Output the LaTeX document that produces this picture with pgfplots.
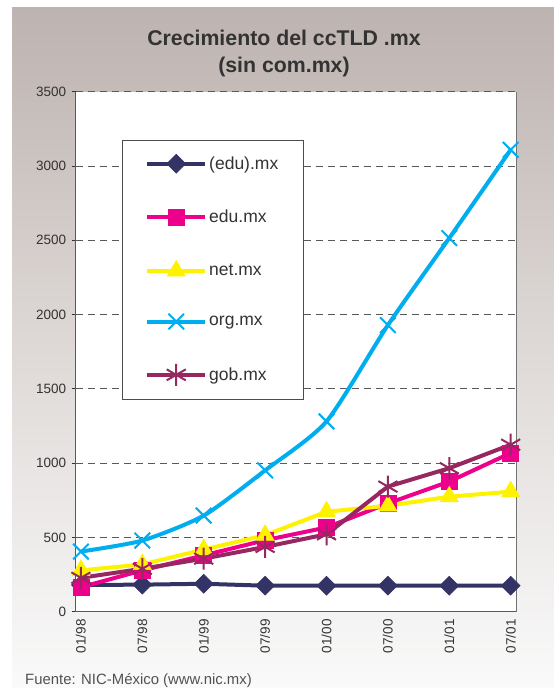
\documentclass[border=0pt]{standalone}
\usepackage{pgfplots}
\pgfplotsset{compat=1.18}
\usepackage{fontspec}
\setmainfont{Liberation Sans}
\definecolor{cnavy}{RGB}{51,51,102}
\definecolor{cpink}{RGB}{236,0,140}
\definecolor{cyellow}{RGB}{255,242,0}
\definecolor{ccyan}{RGB}{0,174,239}
\definecolor{cpurple}{RGB}{150,40,95}
\definecolor{bgtop}{RGB}{189,179,176}
\definecolor{bgbot}{RGB}{250,250,250}
\definecolor{txt}{RGB}{51,51,51}
\begin{document}
\begin{tikzpicture}
\useasboundingbox (0,0) rectangle (554pt,688pt);
\shade[top color=bgtop, bottom color=bgbot, middle color={rgb,255:red,222;green,217;blue,215}] (12pt,0pt) rectangle (554pt,680pt);
\node[anchor=base, text=txt, font=\fontsize{21.3}{24}\selectfont\bfseries] at (284pt,642.3pt) {Crecimiento del ccTLD .mx};
\node[anchor=base, text=txt, font=\fontsize{21.3}{24}\selectfont\bfseries] at (284pt,615pt) {(sin com.mx)};
\node[anchor=base west, text=txt!85, font=\fontsize{14.9}{16}\selectfont, inner sep=0pt] at (25pt,4pt) {Fuente: NIC-México (www.nic.mx)};
\begin{axis}[
  at={(75.7pt,76.3pt)}, anchor=south west,
  scale only axis, width=441pt, height=520pt,
  axis background/.style={fill=white},
  xmin=-0.085, xmax=7.098,
  ymin=0, ymax=3500,
  ytick={0,500,...,3500},
  xtick={0,...,7},
  xticklabels={01/98,07/98,01/99,07/99,01/00,07/00,01/01,07/01},
  x tick label style={rotate=90, anchor=east},
  y tick label style={xshift=-2pt},
  major x tick style={draw=none},
  extra x ticks={-0.08,0.92,1.92,2.92,3.92,4.92,5.92,6.92},
  extra x tick labels={},
  extra x tick style={major tick length=4pt, tick style={draw=txt, line width=0.8pt}, grid=none},
  axis x line*=bottom, axis y line*=left,
  axis line style={draw=black!65, line width=1.2pt},
  tick align=outside, major tick length=4pt,
  tick style={draw=txt, line width=0.8pt},
  ymajorgrids,
  major grid style={draw=black!65, line width=0.8pt, dash pattern=on 7pt off 5pt},
  tick label style={font=\fontsize{13.5}{15}\selectfont, text=txt},
  /pgf/number format/assume math mode=true,
  /pgf/number format/set thousands separator={},
  clip=false,
  legend style={at={(0.1046,0.9075)}, anchor=north west, draw=black!70, line width=0.8pt, fill=white,
    font=\fontsize{17.5}{20}\selectfont, text=txt, inner xsep=23pt, inner ysep=14pt, row sep=34.5pt,
    nodes={inner sep=2pt}},
  legend cell align=left,
  legend image code/.code={\draw[mark repeat=2,mark phase=2,#1] plot coordinates {(0pt,0pt) (29pt,0pt) (58pt,0pt)};},
  every axis plot/.append style={line width=4pt},
]
\addplot[cnavy, mark=diamond*, mark size=9.5pt, mark options={solid, fill=cnavy, xscale=1.333, line width=0.5pt}] coordinates {
(0,180) (1,182) (2,188) (3,175) (4,175) (5,175) (6,175) (7,175)};
\addlegendentry{(edu).mx}
\addplot[cpink, mark=square*, mark size=8pt, mark options={solid, fill=cpink, line width=0.5pt}] coordinates {
(0,165) (1,278) (2,379) (3,481) (4,567) (5,729) (6,876) (7,1068)};
\addlegendentry{edu.mx}
\addplot[cyellow, mark=triangle*, mark size=10.5pt, mark options={solid, fill=cyellow, line width=0.5pt}] coordinates {
(0,278) (1,318) (2,418) (3,515) (4,673) (5,713) (6,774) (7,808)};
\addlegendentry{net.mx}
\addplot[ccyan, smooth, tension=0.4, mark=x, mark size=11pt, mark options={solid, line width=2pt}] coordinates {
(0,405) (1,479) (2,647) (3,951) (4,1281) (5,1929) (6,2515) (7,3109)};
\addlegendentry{org.mx}
\addplot[cpurple, mark=asterisk, mark size=11pt, mark options={solid, line width=2pt}] coordinates {
(0,228) (1,289) (2,357) (3,436) (4,521) (5,842) (6,966) (7,1124)};
\addlegendentry{gob.mx}
\draw[black!55, line width=1.2pt] (rel axis cs:1,0) -- (rel axis cs:1,1);
\end{axis}
\end{tikzpicture}
\end{document}
